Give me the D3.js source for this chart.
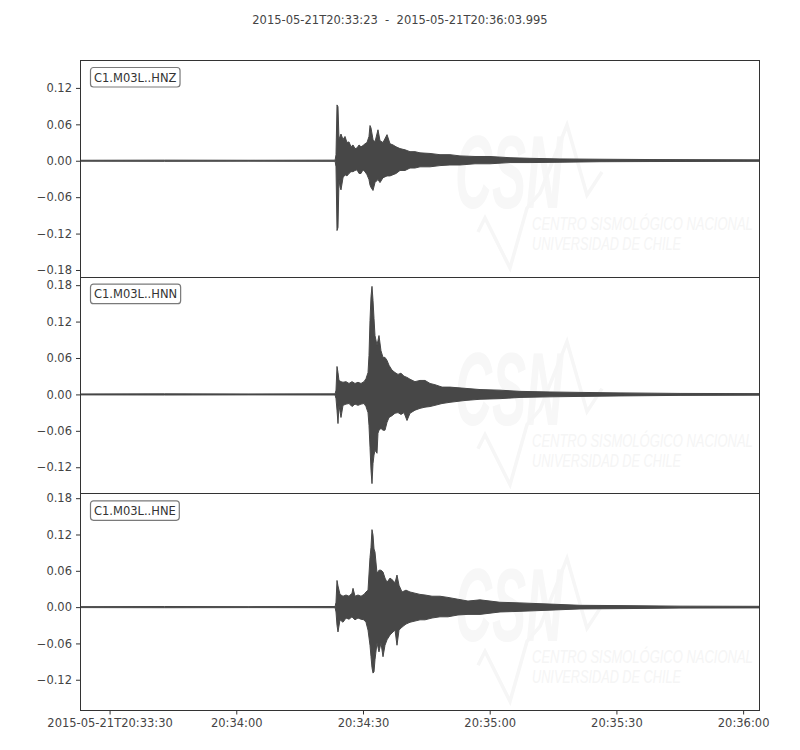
<!DOCTYPE html>
<html>
<head>
<meta charset="utf-8">
<script src="https://cdn.jsdelivr.net/npm/d3@7"></script>
<style>
  html, body { margin: 0; padding: 0; background: #ffffff; }
  svg { display: block; font-family: "DejaVu Sans", sans-serif; }
</style>
</head>
<body>
<svg id="chart" width="800" height="750"></svg>
<script>
// ---------------- DATA ----------------
const titleText = "2015-05-21T20:33:23  -  2015-05-21T20:36:03.995";
const startIso = "2015-05-21T20:33:23.000Z";
const durationSec = 160.995;
const traceLabels = ["C1.M03L..HNZ", "C1.M03L..HNN", "C1.M03L..HNE"];
const yDomains = [[-0.191, 0.166], [-0.163, 0.194], [-0.170, 0.188]];
const yTickValues = [-0.18, -0.12, -0.06, 0.00, 0.06, 0.12, 0.18];
const xTickLabels = ["2015-05-21T20:33:30", "20:34:00", "20:34:30", "20:35:00", "20:35:30", "20:36:00"];
const watermarkLines = ["CSN", "CENTRO SISMOLÓGICO NACIONAL", "UNIVERSIDAD DE CHILE"];

// envelope (max / min per time); time in s after start
const tZ = [0, 20, 40, 60.4, 60.61, 60.85, 61.08, 61.32, 61.56, 61.79, 62.27, 62.74, 63.21, 63.69, 64.16, 64.64, 65.11, 65.58, 66.06, 66.53, 67.00, 67.48, 67.95, 68.42, 68.66, 68.90, 69.37, 69.84, 70.55, 71.03, 71.74, 72.69, 73.40, 74.11, 74.82, 75.76, 76.95, 78.13, 79.31, 80.50, 82.87, 85.23, 87.60, 89.97, 93.52, 97.07, 101.81, 106.54, 113.64, 123.11, 134.95, 160.99];
const maxZ = [0.0008, 0.001, 0.0008, 0.001, 0.010, 0.092, 0.089, 0.035, 0.040, 0.044, 0.035, 0.040, 0.030, 0.031, 0.023, 0.026, 0.020, 0.021, 0.026, 0.023, 0.025, 0.028, 0.030, 0.040, 0.058, 0.054, 0.035, 0.031, 0.051, 0.033, 0.030, 0.043, 0.028, 0.026, 0.023, 0.020, 0.018, 0.015, 0.015, 0.013, 0.012, 0.010, 0.010, 0.008, 0.007, 0.007, 0.005, 0.004, 0.003, 0.0025, 0.002, 0.0015];
const minZ = [-0.0008, -0.001, -0.0008, -0.001, -0.010, -0.115, -0.110, -0.031, -0.043, -0.048, -0.028, -0.023, -0.025, -0.021, -0.018, -0.018, -0.016, -0.015, -0.021, -0.021, -0.015, -0.018, -0.023, -0.031, -0.040, -0.044, -0.049, -0.036, -0.031, -0.036, -0.028, -0.025, -0.025, -0.023, -0.021, -0.016, -0.016, -0.012, -0.012, -0.010, -0.010, -0.008, -0.007, -0.007, -0.005, -0.005, -0.003, -0.003, -0.0025, -0.0016, -0.0013, -0.001];

const tN = [0, 20, 40, 60.4, 60.61, 60.85, 61.08, 61.32, 61.79, 62.27, 62.98, 63.69, 64.40, 65.11, 65.82, 66.53, 67.24, 67.71, 68.19, 68.42, 68.66, 68.90, 69.13, 69.37, 69.61, 69.84, 70.32, 70.55, 70.79, 71.26, 71.74, 72.21, 72.69, 73.16, 73.87, 74.58, 75.29, 76.00, 76.71, 77.42, 78.13, 79.31, 80.50, 81.68, 82.87, 84.04, 85.71, 87.60, 91.15, 94.71, 99.44, 104.17, 111.28, 118.38, 127.85, 142.06, 160.99];
const maxN = [0.0008, 0.001, 0.0008, 0.001, 0.007, 0.046, 0.036, 0.023, 0.021, 0.020, 0.021, 0.018, 0.021, 0.018, 0.020, 0.018, 0.021, 0.026, 0.036, 0.064, 0.122, 0.161, 0.178, 0.155, 0.125, 0.097, 0.081, 0.089, 0.097, 0.072, 0.061, 0.061, 0.056, 0.048, 0.040, 0.036, 0.033, 0.035, 0.030, 0.028, 0.025, 0.021, 0.023, 0.023, 0.018, 0.016, 0.012, 0.012, 0.010, 0.008, 0.007, 0.005, 0.004, 0.0033, 0.0025, 0.0016, 0.0013];
const minN = [-0.0008, -0.001, -0.0008, -0.001, -0.007, -0.026, -0.048, -0.018, -0.038, -0.018, -0.016, -0.015, -0.020, -0.016, -0.018, -0.016, -0.015, -0.020, -0.030, -0.051, -0.087, -0.125, -0.147, -0.114, -0.100, -0.092, -0.097, -0.064, -0.059, -0.056, -0.059, -0.059, -0.046, -0.038, -0.035, -0.031, -0.030, -0.033, -0.030, -0.043, -0.031, -0.026, -0.023, -0.021, -0.020, -0.018, -0.015, -0.013, -0.010, -0.008, -0.007, -0.005, -0.004, -0.0033, -0.0025, -0.0016, -0.0013];

const tE = [0, 20, 40, 60.4, 60.61, 60.85, 61.08, 61.56, 62.27, 62.98, 63.69, 64.40, 64.64, 65.11, 65.82, 66.53, 67.24, 67.71, 68.19, 68.66, 68.90, 69.13, 69.37, 69.61, 69.84, 70.32, 70.79, 71.26, 71.74, 72.21, 72.69, 73.40, 74.11, 74.58, 75.05, 75.53, 76.24, 77.18, 78.13, 79.31, 80.50, 81.68, 83.34, 85.23, 87.13, 89.49, 91.86, 94.71, 99.44, 104.17, 111.28, 118.38, 127.85, 142.06, 160.99];
const maxE = [0.0008, 0.001, 0.0008, 0.001, 0.008, 0.044, 0.035, 0.021, 0.018, 0.020, 0.018, 0.023, 0.031, 0.018, 0.020, 0.018, 0.021, 0.025, 0.028, 0.082, 0.099, 0.128, 0.119, 0.096, 0.091, 0.056, 0.061, 0.061, 0.058, 0.048, 0.041, 0.048, 0.044, 0.040, 0.053, 0.036, 0.025, 0.028, 0.025, 0.023, 0.021, 0.020, 0.018, 0.018, 0.016, 0.013, 0.010, 0.012, 0.008, 0.007, 0.005, 0.003, 0.0025, 0.0016, 0.0013];
const minE = [-0.0008, -0.001, -0.0008, -0.001, -0.008, -0.030, -0.041, -0.021, -0.025, -0.018, -0.020, -0.016, -0.018, -0.021, -0.018, -0.020, -0.021, -0.025, -0.038, -0.063, -0.082, -0.100, -0.109, -0.107, -0.087, -0.059, -0.074, -0.059, -0.082, -0.063, -0.054, -0.046, -0.041, -0.038, -0.063, -0.038, -0.033, -0.028, -0.025, -0.023, -0.021, -0.021, -0.018, -0.016, -0.016, -0.013, -0.012, -0.012, -0.008, -0.007, -0.005, -0.003, -0.0025, -0.0016, -0.0013];

const traceTimes = [tZ, tN, tE];
const traceMax = [maxZ, maxN, maxE];
const traceMin = [minZ, minN, minE];

// ---------------- LAYOUT ----------------
const W = 800, H = 750;
const plotL = 80, plotR = 760, plotT = 60, plotB = 710;
const panelH = (plotB - plotT) / 3;
const traceColor = "#474747";
const textColor = "#444444";
const axisColor = "#333333";
const fontSize = 11.5;

const svg = d3.select("#chart");
const tStart = new Date(startIso);
const tEnd = new Date(tStart.getTime() + durationSec * 1000);
const x = d3.scaleUtc().domain([tStart, tEnd]).range([plotL, plotR]);

// title
svg.append("text")
  .attr("x", W / 2).attr("y", 24)
  .attr("text-anchor", "middle")
  .attr("font-size", fontSize)
  .attr("fill", textColor)
  .style("white-space", "pre")
  .text(titleText);

const defs = svg.append("defs");

// helper: text squeezed horizontally to a target width
function squeezedText(parent, str, px, py, size, targetW, opts) {
  const gT = parent.append("g");
  const t = gT.append("text")
    .attr("x", 0).attr("y", 0)
    .attr("font-family", "Liberation Sans, Arial, sans-serif")
    .attr("font-size", size)
    .attr("font-style", "italic")
    .attr("font-weight", opts.bold ? "bold" : "normal")
    .attr("fill", opts.fill)
    .text(str);
  const natural = t.node().getComputedTextLength();
  gT.attr("transform", `translate(${px},${py}) scale(${targetW / natural},1)`);
  return gT;
}

traceLabels.forEach((label, i) => {
  const y0 = plotT + i * panelH;
  const y1 = y0 + panelH;
  const y = d3.scaleLinear().domain(yDomains[i]).range([y1, y0]);
  const g = svg.append("g");

  defs.append("clipPath").attr("id", "clip" + i)
    .append("rect").attr("x", plotL).attr("y", y0).attr("width", plotR - plotL).attr("height", panelH);

  // watermark (faint CSN logo)
  const wm = g.append("g").attr("transform", `translate(${plotL},${y0})`);
  squeezedText(wm, watermarkLines[0], 375, 148, 104, 108, { bold: true, fill: "#f7f7f7" });
  wm.append("path")
    .attr("d", "M398,172 L405,158 L430,208 L447,148 L460,133 L487,65 L507,135 L522,112")
    .attr("fill", "none").attr("stroke", "#f6f6f6").attr("stroke-width", 3.5);
  squeezedText(wm, watermarkLines[1], 452, 170, 18, 221, { bold: false, fill: "#f5f5f5" });
  squeezedText(wm, watermarkLines[2], 452, 190, 18, 149, { bold: false, fill: "#f5f5f5" });

  // trace envelope
  const pts = traceTimes[i].map((s, k) => ({
    t: new Date(tStart.getTime() + s * 1000),
    hi: traceMax[i][k],
    lo: traceMin[i][k]
  }));
  const area = d3.area()
    .x(d => x(d.t))
    .y0(d => y(d.lo))
    .y1(d => y(d.hi))
    .curve(d3.curveLinear);
  g.append("path")
    .datum(pts)
    .attr("clip-path", `url(#clip${i})`)
    .attr("d", area)
    .attr("fill", traceColor)
    .attr("stroke", traceColor)
    .attr("stroke-width", 1)
    .attr("stroke-linejoin", "miter");

  // y axis
  const ticks = yTickValues.filter(v => v >= yDomains[i][0] - 1e-9 && v <= yDomains[i][1] + 1e-9);
  const yAxis = d3.axisLeft(y)
    .tickValues(ticks)
    .tickFormat(d3.format(".2f"))
    .tickSize(4).tickSizeOuter(0).tickPadding(4);
  const ya = g.append("g").attr("transform", `translate(${plotL},0)`).call(yAxis);
  ya.select(".domain").remove();
  ya.selectAll(".tick line").attr("stroke", axisColor);
  ya.selectAll(".tick text").attr("fill", textColor).attr("font-size", fontSize)
    .attr("font-family", "DejaVu Sans, sans-serif");

  // frame
  g.append("rect")
    .attr("x", plotL + 0.5).attr("y", Math.round(y0) + 0.5)
    .attr("width", plotR - plotL - 1).attr("height", Math.round(y1) - Math.round(y0))
    .attr("fill", "none").attr("stroke", axisColor).attr("stroke-width", 1);

  // label box
  const lbl = g.append("g").attr("transform", `translate(${plotL},${y0})`);
  const txt = lbl.append("text")
    .attr("x", 14).attr("y", 21.5)
    .attr("font-size", fontSize)
    .attr("fill", "#333333")
    .text(label);
  const bb = txt.node().getBBox();
  lbl.insert("rect", "text")
    .attr("x", bb.x - 3.5).attr("y", 7.5)
    .attr("width", bb.width + 7).attr("height", 19.5)
    .attr("rx", 3).attr("ry", 3)
    .attr("fill", "#ffffff").attr("stroke", "#7a7a7a").attr("stroke-width", 1.2);

  // x axis on last panel only
  if (i === traceLabels.length - 1) {
    const tickTimes = d3.utcSecond.every(30).range(tStart, tEnd);
    const xAxis = d3.axisBottom(x)
      .tickValues(tickTimes)
      .tickFormat((d, k) => xTickLabels[k])
      .tickSize(4).tickSizeOuter(0).tickPadding(4);
    const xa = g.append("g").attr("transform", `translate(0,${Math.round(y1) + 0.5})`).call(xAxis);
    xa.select(".domain").remove();
    xa.selectAll(".tick line").attr("stroke", axisColor);
    xa.selectAll(".tick text").attr("fill", textColor).attr("font-size", fontSize)
      .attr("font-family", "DejaVu Sans, sans-serif");
  }
});
</script>
</body>
</html>
